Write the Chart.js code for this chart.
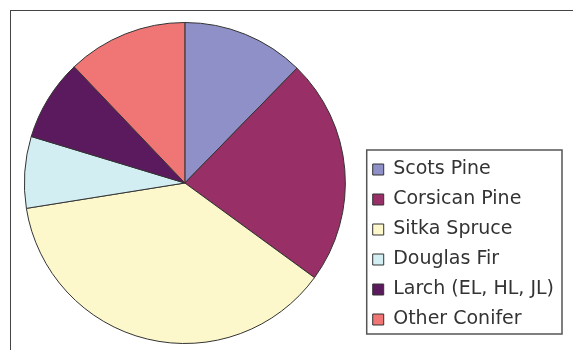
<!DOCTYPE html>
<html>
<head>
<meta charset="utf-8">
<script src="https://cdn.jsdelivr.net/npm/chart.js@4"></script>
<style>
    body { margin: 0; background: #fff; overflow: hidden; }
    #wrap { position: relative; width: 573px; height: 350px; overflow: hidden; }
    #frame {
        position: absolute; left: 10px; top: 10px; width: 600px; height: 400px;
        border-left: 1.5px solid #444; border-top: 1.5px solid #444;
        pointer-events: none;
    }
</style>
</head>
<body>
<div id="wrap">
    <canvas id="pieChart" width="573" height="350"></canvas>
    <div id="frame"></div>
</div>
<script>
// species share of conifer area (%)
let species = ['Scots Pine', 'Corsican Pine', 'Sitka Spruce', 'Douglas Fir', 'Larch (EL, HL, JL)', 'Other Conifer'];
let shares = [12.3, 22.7, 37.4, 7.2, 8.2, 12.1];
let sliceColors = ['#9090c8', '#982f66', '#fdf8cc', '#d2eef2', '#5c1a5e', '#f07676'];

// box round the legend, like the old spreadsheet look
const legendBorder = {
    id: 'legendBorder',
    afterLayout(chart) {
        // lift the legend a little, the pie keeps its size
        chart.legend.top -= 4;
        chart.legend.bottom -= 4;
    },
    afterDraw(chart) {
        let boxes = chart.legend.legendHitBoxes;
        if (!boxes || !boxes.length) return;
        let left = Math.min(...boxes.map(b => b.left)) - 6;
        let top = Math.min(...boxes.map(b => b.top)) - 10;
        let right = Math.max(...boxes.map(b => b.left + b.width)) + 8;
        let bottom = Math.max(...boxes.map(b => b.top + b.height)) + 5;
        let ctx = chart.ctx;
        ctx.save();
        ctx.strokeStyle = '#555';
        ctx.lineWidth = 1.5;
        ctx.strokeRect(left, top, right - left, bottom - top);
        ctx.restore();
    }
};

var ctx = document.getElementById('pieChart').getContext('2d');
new Chart(ctx, {
    type: 'pie',
    data: {
        labels: species,
        datasets: [{
            data: shares,
            backgroundColor: sliceColors,
            borderColor: '#333',
            borderWidth: 1
        }]
    },
    options: {
        responsive: false,
        animation: false,
        layout: {
            padding: {left: 8, top: 22, bottom: 6, right: 9}
        },
        plugins: {
            tooltip: {enabled: false},
            legend: {
                display: true,
                position: 'right',
                align: 'end',
                labels: {
                    boxWidth: 11,
                    boxHeight: 11,
                    padding: 11,
                    color: '#333',
                    font: {family: 'DejaVu Sans', size: 19}
                }
            }
        }
    },
    plugins: [legendBorder]
});
</script>
</body>
</html>
